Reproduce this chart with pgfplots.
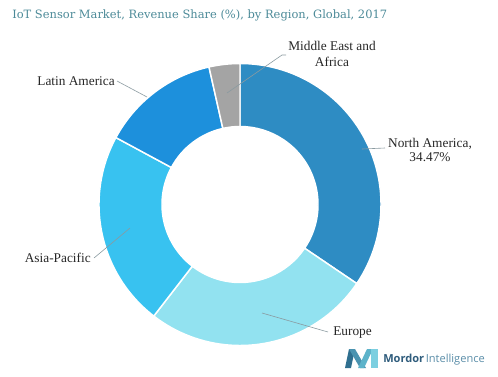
\documentclass[border=0pt]{standalone}
\usepackage{pgfplots}
\pgfplotsset{compat=1.18}
\usepackage{fontspec}
\setmainfont{Liberation Serif}
\newfontfamily\titlefont{DejaVu Serif}
\newfontfamily\logofont{Open Sans}

\definecolor{cNA}{HTML}{2E8CC3}
\definecolor{cEU}{HTML}{92E2F0}
\definecolor{cAP}{HTML}{38C2F0}
\definecolor{cLA}{HTML}{1D90DC}
\definecolor{cME}{HTML}{A4A4A4}
\definecolor{ctitle}{HTML}{4C8A98}
\definecolor{cleader}{HTML}{8A9AA0}
\definecolor{lg1}{HTML}{2F6F8F}
\definecolor{lg2}{HTML}{4A93B0}
\definecolor{lg3}{HTML}{5DB3CA}
\definecolor{lg4}{HTML}{7CCFE0}
\definecolor{lgA}{HTML}{2F5C7C}
\definecolor{lgB}{HTML}{5A8DA8}

% revenue shares (%), clockwise from the top
\def\vNA{34.47}
\def\vEU{26.0}
\def\vAP{22.4}
\def\vLA{13.6}
\def\vME{3.53}
\pgfmathsetmacro\aA{90}
\pgfmathsetmacro\aB{\aA-3.6*\vNA}
\pgfmathsetmacro\aC{\aB-3.6*\vEU}
\pgfmathsetmacro\aD{\aC-3.6*\vAP}
\pgfmathsetmacro\aE{\aD-3.6*\vLA}
\pgfmathsetmacro\aF{\aE-3.6*\vME}

% centre (240,171.5), outer radius 141 px, inner radius 78 px; 1 px = 0.75pt
\newcommand{\sector}[3]{%
  \fill[#3, draw=white, line width=1.1pt]
    (axis cs:{240+141*cos(#1)},{171.5+141*sin(#1)})
    arc[start angle=#1, end angle=#2, radius=105.75pt]
    -- (axis cs:{240+78*cos(#2)},{171.5+78*sin(#2)})
    arc[start angle=#2, end angle=#1, radius=58.5pt] -- cycle;}

\begin{document}
\begin{tikzpicture}
\begin{axis}[name=ax, x=0.75pt, y=0.75pt, xmin=0, xmax=498, ymin=0, ymax=376,
  hide axis, clip=false]
\sector{\aA}{\aB}{cNA}
\sector{\aB}{\aC}{cEU}
\sector{\aC}{\aD}{cAP}
\sector{\aD}{\aE}{cLA}
\sector{\aE}{\aF}{cME}
% leader lines
\draw[cleader, line width=0.45pt] (axis cs:227,283) -- (axis cs:282,321) -- (axis cs:286,321);
\draw[cleader, line width=0.45pt] (axis cs:362,227) -- (axis cs:385,228);
\draw[cleader, line width=0.45pt] (axis cs:117,295) -- (axis cs:147,279);
\draw[cleader, line width=0.45pt] (axis cs:94,118) -- (axis cs:130,148);
\draw[cleader, line width=0.45pt] (axis cs:262,63) -- (axis cs:328,44);
% labels
\begin{scope}[every node/.style={inner sep=0pt, font=\fontsize{10}{12}\selectfont, text=black!85}]
\node[anchor=base] at (axis cs:332,326) {Middle East and};
\node[anchor=base] at (axis cs:332,310) {Africa};
\node[anchor=base] at (axis cs:430,229) {North America,};
\node[anchor=base] at (axis cs:430,215) {34.47\%};
\node[anchor=base east] at (axis cs:115,291) {Latin America};
\node[anchor=base east] at (axis cs:91,114) {Asia-Pacific};
\node[anchor=base west] at (axis cs:333,41) {Europe};
\end{scope}
% title
\node[anchor=base west, inner sep=0pt, text=ctitle, font=\titlefont\fontsize{8.6}{10}\selectfont]
  at (axis cs:12,358) {IoT Sensor Market, Revenue Share (\%), by Region, Global, 2017};
% logo
\fill[lg1] (axis cs:345,8) -- (axis cs:349,27) -- (axis cs:355,27) -- (axis cs:351,8) -- cycle;
\fill[lg2] (axis cs:349,27) -- (axis cs:355,27) -- (axis cs:366,8) -- (axis cs:360,8) -- cycle;
\fill[lg3] (axis cs:358,8) -- (axis cs:367,27) -- (axis cs:373,27) -- (axis cs:364,8) -- cycle;
\fill[lg4] (axis cs:371,27) -- (axis cs:378,27) -- (axis cs:378,8) -- (axis cs:371,8) -- cycle;
\node[anchor=base west, inner sep=0pt, font=\logofont\fontsize{8.3}{10}\selectfont]
  at (axis cs:383,14) {\textcolor{lgA}{\bfseries Mordor}\kern1.2pt\textcolor{lgB}{Intelligence}};
\end{axis}
\pgfresetboundingbox
\useasboundingbox (ax.south west) rectangle (ax.north east);
\end{tikzpicture}
\end{document}
